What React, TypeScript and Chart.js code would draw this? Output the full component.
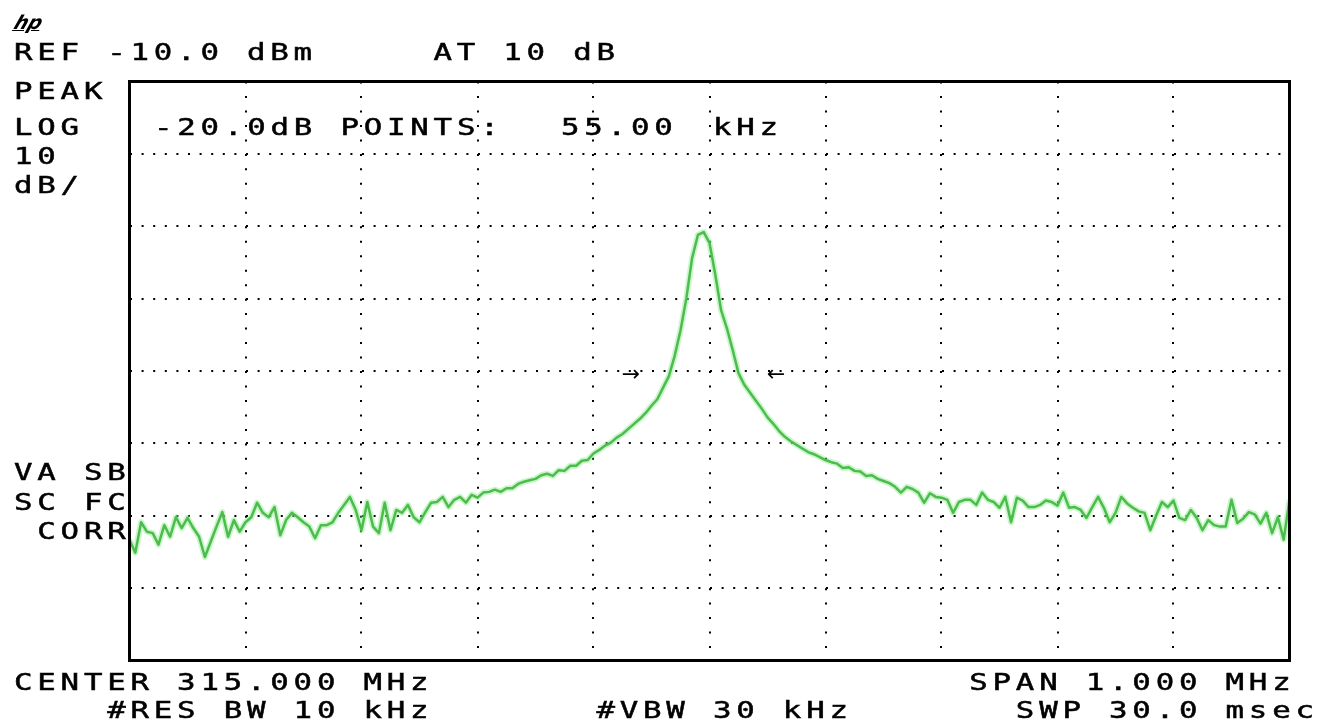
import React, { useEffect, useRef } from "react";
import { Chart, registerables } from "chart.js";

Chart.register(...registerables);

// ---- instrument settings ----
const SWEEP_START_MHZ = 314.5;
const SPAN_MHZ = 1.0;
const REF_LEVEL_DBM = -10;
const DB_PER_DIV = 10;
const V_DIVS = 8;
const H_DIVS = 10;

// ---- trace (dBm), one value per sweep point across the span ----
const traceDbm = [
  -73.3, -75.1, -70.9, -72.2, -72.4, -74.0, -71.3, -72.9, -70.2, -71.7,
  -70.3, -71.7, -72.9, -75.7, -73.6, -71.5, -69.5, -72.9, -70.6, -72.2,
  -70.9, -70.2, -68.2, -69.6, -70.2, -68.8, -72.7, -70.6, -69.6, -70.2,
  -70.9, -71.5, -73.1, -71.3, -71.3, -70.9, -69.6, -68.5, -67.4, -69.2,
  -72.0, -68.1, -71.5, -72.4, -68.2, -72.0, -69.2, -69.6, -68.5, -70.2,
  -70.9, -69.5, -68.2, -68.1, -67.4, -68.8, -67.8, -67.4, -68.2, -67.1,
  -67.5, -66.8, -66.7, -66.4, -66.7, -66.2, -66.2, -65.6, -65.3, -65.1,
  -64.9, -64.4, -64.2, -64.5, -63.7, -63.8, -63.1, -63.1, -62.4, -62.3,
  -61.4, -60.9, -60.3, -59.9, -59.2, -58.7, -58.0, -57.3, -56.6, -55.8,
  -54.8, -53.9, -52.3, -50.7, -47.9, -44.4, -40.0, -34.4, -31.2, -30.8,
  -32.3, -36.7, -41.6, -44.1, -47.1, -50.3, -51.9, -53.0, -54.1, -55.2,
  -56.4, -57.3, -58.3, -59.1, -59.7, -60.2, -60.7, -61.2, -61.5, -61.9,
  -62.3, -62.6, -62.8, -63.4, -63.3, -63.8, -63.9, -64.5, -64.4, -64.9,
  -65.2, -65.5, -66.0, -66.8, -66.0, -66.3, -66.8, -68.2, -66.9, -67.4,
  -67.5, -67.8, -69.6, -68.1, -67.8, -67.8, -68.5, -66.8, -67.8, -68.1,
  -68.9, -67.4, -70.9, -67.5, -67.9, -68.8, -68.8, -68.5, -67.9, -68.1,
  -68.6, -66.8, -68.9, -68.8, -69.2, -70.3, -68.8, -67.4, -68.9, -70.9,
  -69.6, -67.4, -68.3, -68.9, -69.4, -69.6, -72.0, -70.0, -68.1, -68.8,
  -67.9, -70.3, -70.6, -69.2, -70.3, -72.0, -70.6, -71.3, -71.5, -71.5,
  -67.8, -71.0, -70.4, -69.5, -69.8, -71.1, -69.6, -72.4, -70.2, -73.3,
  -67.8,
];

// ---- -20 dB point markers ----
const markerFreqMHz = [314.9323, 315.0573];
const markerGlyphs = ["→", "←"];
const MARKER_LEVEL_DBM = -50.4;

// ---- annotation texts ----
const topLine = "REF -10.0 dBm     AT 10 dB";
const leftLines = ["PEAK", "LOG", "10", "dB/"];
const lowerLeftLines = ["VA SB", "SC FC", " CORR"];
const measLabel = "-20.0dB POINTS:";
const measValue = "55.00";
const measUnit = "kHz";
const bottomLine1 = "CENTER 315.000 MHz                       SPAN 1.000 MHz";
const bottomLine2 = "    #RES BW 10 kHz       #VBW 30 kHz       SWP 30.0 msec";

// ---- layout ----
const W = 1325;
const H = 723;
const AREA = { left: 129.5, top: 81.5, right: 1289.5, bottom: 660.5 };
const FS = 23.3;
const SX = 1.32;
const PITCH = 23.3;
const TX0 = 14;
const FONT = "'DejaVu Sans Mono', 'Liberation Mono', monospace";

function Txt(props: { x: number; capTop: number; children: React.ReactNode }) {
  const adv = 0.602 * FS;
  const ls = PITCH / SX - adv;
  return (
    <div
      style={{
        position: "absolute",
        left: props.x,
        top: props.capTop - 0.117 * FS,
        fontFamily: FONT,
        fontSize: FS,
        lineHeight: FS + "px",
        letterSpacing: ls + "px",
        whiteSpace: "pre",
        transform: `scaleX(${SX})`,
        transformOrigin: "0 0",
        color: "#000",
        WebkitTextStroke: "0.5px #000",
      }}
    >
      {props.children}
    </div>
  );
}

const framePlugin = {
  id: "saFrame",
  afterDatasetsDraw(chart: any) {
    const { ctx, chartArea: a, scales } = chart;
    ctx.save();
    // marker arrows
    ctx.fillStyle = "#000";
    ctx.font = "22px 'DejaVu Sans'";
    ctx.textAlign = "center";
    ctx.textBaseline = "middle";
    markerFreqMHz.forEach((f, i) => {
      ctx.fillText(markerGlyphs[i], scales.x.getPixelForValue(f), scales.y.getPixelForValue(MARKER_LEVEL_DBM) + 1);
    });
    // frame
    ctx.strokeStyle = "#000";
    ctx.lineWidth = 3;
    ctx.strokeRect(a.left, a.top, a.right - a.left, a.bottom - a.top);
    ctx.restore();
  },
};

export default function App() {
  const ref = useRef<HTMLCanvasElement | null>(null);

  useEffect(() => {
    if (!ref.current) return;
    const n = traceDbm.length;
    const pts = traceDbm.map((v, i) => ({ x: SWEEP_START_MHZ + (i * SPAN_MHZ) / (n - 1), y: v }));
    const hStep = (AREA.right - AREA.left) / H_DIVS;
    const vStep = (AREA.bottom - AREA.top) / V_DIVS;
    const chart = new Chart(ref.current, {
      type: "line",
      data: {
        datasets: [
          {
            data: pts,
            borderColor: "#4cbc4c",
            borderWidth: 2.5,
            pointRadius: 0,
            tension: 0,
            borderJoinStyle: "round",
          },
          {
            data: pts,
            borderColor: "rgba(140,235,140,0.45)",
            borderWidth: 6,
            pointRadius: 0,
            tension: 0,
            borderJoinStyle: "round",
          },
        ],
      },
      options: {
        animation: false,
        responsive: false,
        devicePixelRatio: 1,
        events: [],
        layout: {
          padding: {
            left: AREA.left,
            top: AREA.top,
            right: W - AREA.right,
            bottom: H - AREA.bottom,
          },
        },
        plugins: { legend: { display: false }, tooltip: { enabled: false }, title: { display: false } },
        scales: {
          x: {
            type: "linear",
            min: SWEEP_START_MHZ,
            max: SWEEP_START_MHZ + SPAN_MHZ,
            ticks: { display: false, count: H_DIVS + 1 },
            grid: { color: "#000", lineWidth: 2, drawTicks: false },
            border: { display: false, dash: [2, vStep / 5 - 2] },
          },
          y: {
            type: "linear",
            min: REF_LEVEL_DBM - DB_PER_DIV * V_DIVS,
            max: REF_LEVEL_DBM,
            ticks: { display: false, stepSize: DB_PER_DIV },
            grid: { color: "#000", lineWidth: 2, drawTicks: false },
            border: { display: false, dash: [2, hStep / 10 - 2] },
          },
        },
      },
      plugins: [framePlugin],
    });
    return () => chart.destroy();
  }, []);

  return (
    <div style={{ position: "absolute", left: 0, top: 0, width: W, height: H, background: "#fff", overflow: "hidden" }}>
      <canvas ref={ref} width={W} height={H} style={{ position: "absolute", left: 0, top: 0, width: W, height: H }} />
      <div
        style={{
          position: "absolute",
          left: 15,
          top: 13,
          fontFamily: "'DejaVu Sans'",
          fontStyle: "italic",
          fontWeight: "bold",
          fontSize: 19,
          lineHeight: "19px",
          textDecoration: "underline",
          transform: "skewX(-20deg)",
          color: "#000",
        }}
      >
        hp
      </div>
      <Txt x={TX0} capTop={43}>{topLine}</Txt>
      {leftLines.map((t, i) => (
        <Txt key={"l" + i} x={TX0} capTop={[82, 118, 147, 176][i]}>{t}</Txt>
      ))}
      {lowerLeftLines.map((t, i) => (
        <Txt key={"ll" + i} x={TX0} capTop={463 + i * 29.5}>{t}</Txt>
      ))}
      <Txt x={TX0 + 6 * PITCH} capTop={118}>{measLabel}</Txt>
      <Txt x={561} capTop={118}>{measValue}</Txt>
      <Txt x={TX0 + 30 * PITCH} capTop={118}>{measUnit}</Txt>
      <Txt x={TX0} capTop={673}>{bottomLine1}</Txt>
      <Txt x={TX0} capTop={701}>{bottomLine2}</Txt>
    </div>
  );
}
